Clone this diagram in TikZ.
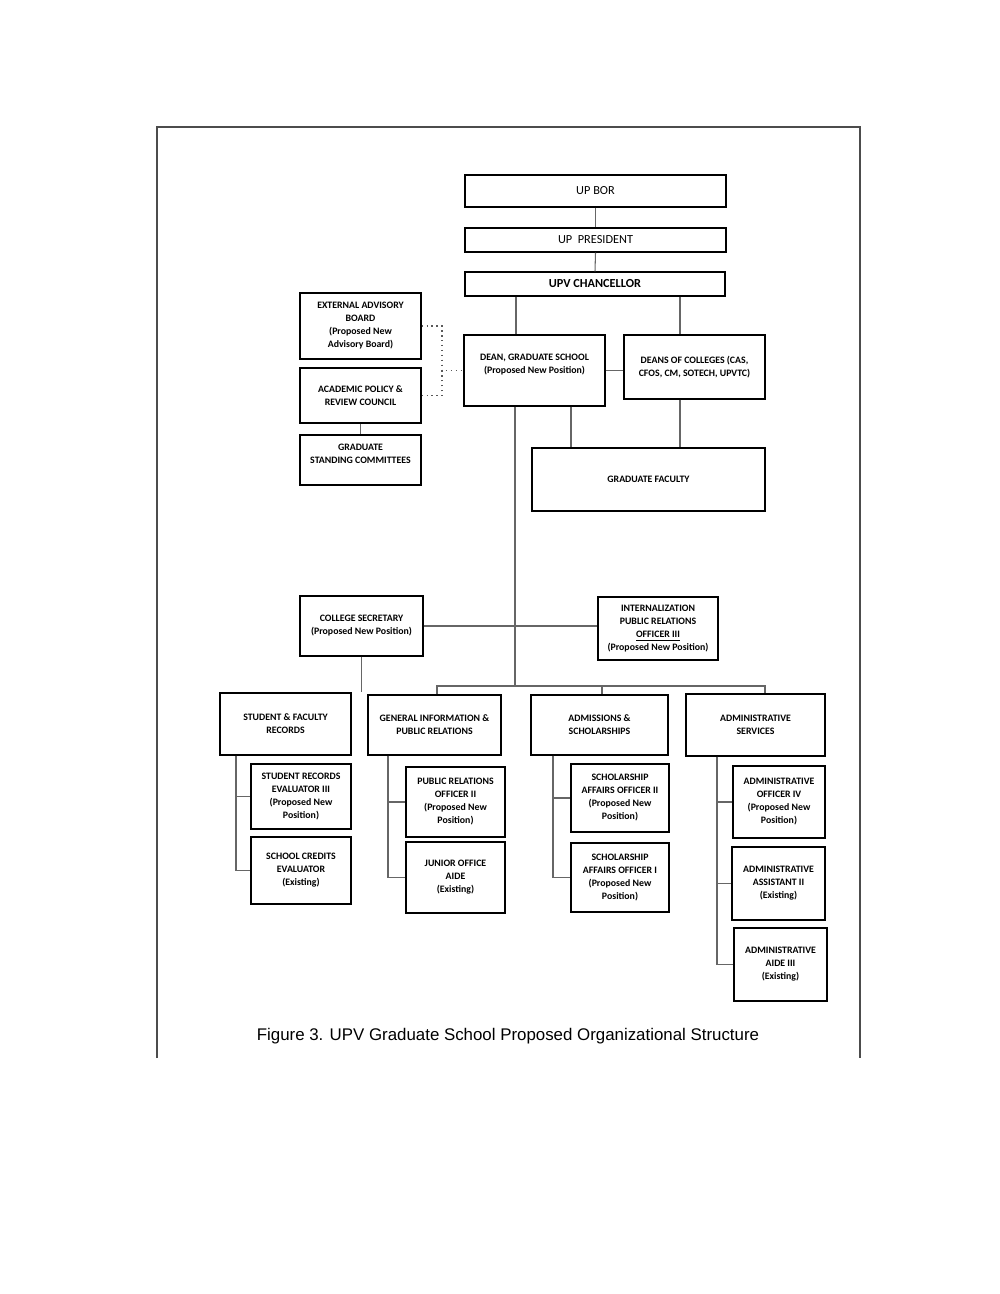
\documentclass[tikz,border=0pt]{standalone}
\usepackage{fontspec}
\setmainfont{Carlito}
\newfontfamily\capfont{Liberation Sans}
\usetikzlibrary{shadows}
\newcommand\obox[7][]{\node[box,#1,minimum width={(#4-#2)*0.02cm},minimum height={(#5-#3)*0.02cm}] (#6) at ({(#2+#4)/2},{(#3+#5)/2}) {#7};}
\begin{document}
\begin{tikzpicture}[x=0.02cm,y=-0.02cm,
  box/.style={draw=black,line width=0.7pt,fill=white,align=center,inner sep=1pt,
    font=\fontsize{5.6}{7.4}\selectfont\bfseries,
    drop shadow={shadow xshift=0.6pt,shadow yshift=-0.6pt,fill=black!55,opacity=1}},
  topfont/.style={font=\fontsize{7}{8.5}\selectfont},
  conn/.style={draw=black!60,line width=0.6pt},
  dots/.style={draw=black!65,line width=0.8pt,dotted},
  frame/.style={draw=black!70,line width=0.6pt}]
\useasboundingbox[fill=white] (0,0) rectangle (1000,1294);
\draw[frame] (157,1058) -- (157,127) -- (860,127) -- (860,1058);
% named x positions
\coordinate (xc1) at (516,0);
\coordinate (xc2) at (680,0);
\coordinate (xg1) at (571,0);
\coordinate (xm) at (515,0);
\coordinate (dj) at (442,0);
\coordinate (bar) at (0,686);
\coordinate (xd1) at (437,0);
\coordinate (xd2) at (602,0);
\coordinate (xd3) at (765,0);
\coordinate (xb1) at (236,0);
\coordinate (xb2) at (388,0);
\coordinate (xb3) at (553,0);
\coordinate (xb4) at (717,0);
% top
\obox[topfont]{465}{175}{726}{207}{bor}{UP BOR}
\obox[topfont]{465}{228}{726}{252}{pres}{UP\ \ PRESIDENT}
\obox[topfont,font=\fontsize{7}{8.5}\selectfont\bfseries]{465}{272}{725}{296}{chan}{UPV CHANCELLOR}
% second level
\obox{300}{293}{421}{359}{eab}{EXTERNAL ADVISORY\\BOARD\\(Proposed New\\Advisory Board)}
\obox{300}{368}{421}{423}{aprc}{ACADEMIC POLICY \&\\REVIEW COUNCIL}
\obox{300}{435}{421}{485}{gsc}{GRADUATE\\STANDING COMMITTEES\\ \mbox{}}
\obox{464}{335}{605}{406}{dean}{DEAN, GRADUATE SCHOOL\\(Proposed New Position)\\ \mbox{}}
\obox{624}{335}{765}{399}{doc}{DEANS OF COLLEGES (CAS,\\CFOS, CM, SOTECH, UPVTC)}
\obox{532}{448}{765}{511}{gf}{GRADUATE FACULTY}
% third level
\obox{300}{596}{423}{656}{cs}{COLLEGE SECRETARY\\(Proposed New Position)}
\obox{598}{597}{718}{660}{ipr}{INTERNALIZATION\\PUBLIC RELATIONS\\\underline{OFFICER III}\\(Proposed New Position)}
% units
\obox{220}{693}{351}{755}{sfr}{STUDENT \& FACULTY\\RECORDS}
\obox{368}{695}{501}{755}{gi}{GENERAL INFORMATION \&\\PUBLIC RELATIONS}
\obox{531}{695}{668}{755}{as}{ADMISSIONS \&\\SCHOLARSHIPS}
\obox{686}{694}{825}{756}{ad}{ADMINISTRATIVE\\SERVICES}
% staff
\obox{251}{764}{351}{829}{sre}{STUDENT RECORDS\\EVALUATOR III\\(Proposed New\\Position)}
\obox{251}{837}{351}{904}{sce}{SCHOOL CREDITS\\EVALUATOR\\(Existing)}
\obox{406}{767}{505}{837}{pro}{PUBLIC RELATIONS\\OFFICER II\\(Proposed New\\Position)}
\obox{406}{842}{505}{913}{joa}{JUNIOR OFFICE\\AIDE\\(Existing)}
\obox{571}{764}{669}{832}{sao2}{SCHOLARSHIP\\AFFAIRS OFFICER II\\(Proposed New\\Position)}
\obox{571}{843}{669}{912}{sao1}{SCHOLARSHIP\\AFFAIRS OFFICER I\\(Proposed New\\Position)}
\obox{733}{766}{825}{838}{ao4}{ADMINISTRATIVE\\OFFICER IV\\(Proposed New\\Position)}
\obox{732}{847}{825}{920}{aa2}{ADMINISTRATIVE\\ASSISTANT II\\(Existing)}
\obox{734}{928}{827}{1001}{aide}{ADMINISTRATIVE\\AIDE III\\(Existing)}
% connectors
\draw[conn] (bor.south) -- (pres.north);
\draw[conn] (pres.south) -- (chan.north);
\draw[conn] (chan.south -| xc1) -- (dean.north -| xc1);
\draw[conn] (chan.south -| xc2) -- (doc.north -| xc2);
\draw[conn] (dean.east) -- (dean.east -| doc.west);
\draw[conn] (dean.south -| xg1) -- (gf.north -| xg1);
\draw[conn] (doc.south -| xc2) -- (gf.north -| xc2);
\draw[conn] (aprc.south) -- (gsc.north);
\draw[dots] (eab.east) -| (dj |- dean.west) -- (dean.west);
\draw[dots] (aprc.east) -| (dj |- dean.west);
\draw[conn] (dean.south -| xm) -- (bar -| xm);
\draw[conn] (cs.east) -- (cs.east -| ipr.west);
\draw[conn] (cs.south) -- (cs.south |- sfr.north);
\draw[conn] (gi.north -| xd1) -- (bar -| xd1) -- (bar -| xd3) -- (ad.north -| xd3);
\draw[conn] (bar -| xd2) -- (as.north -| xd2);
\draw[conn] (sfr.south -| xb1) |- (sre.west);
\draw[conn] (sfr.south -| xb1) |- (sce.west);
\draw[conn] (gi.south -| xb2) |- (pro.west);
\draw[conn] (gi.south -| xb2) |- (joa.west);
\draw[conn] (as.south -| xb3) |- (sao2.west);
\draw[conn] (as.south -| xb3) |- (sao1.west);
\draw[conn] (ad.south -| xb4) |- (ao4.west);
\draw[conn] (ad.south -| xb4) |- (aa2.west);
\draw[conn] (ad.south -| xb4) |- (aide.west);
\node[font=\capfont\fontsize{9.6}{11}\selectfont,inner sep=0pt] (cap) at (508,1036) {Figure 3. UPV Graduate School Proposed Organizational Structure};
\end{tikzpicture}
\end{document}
